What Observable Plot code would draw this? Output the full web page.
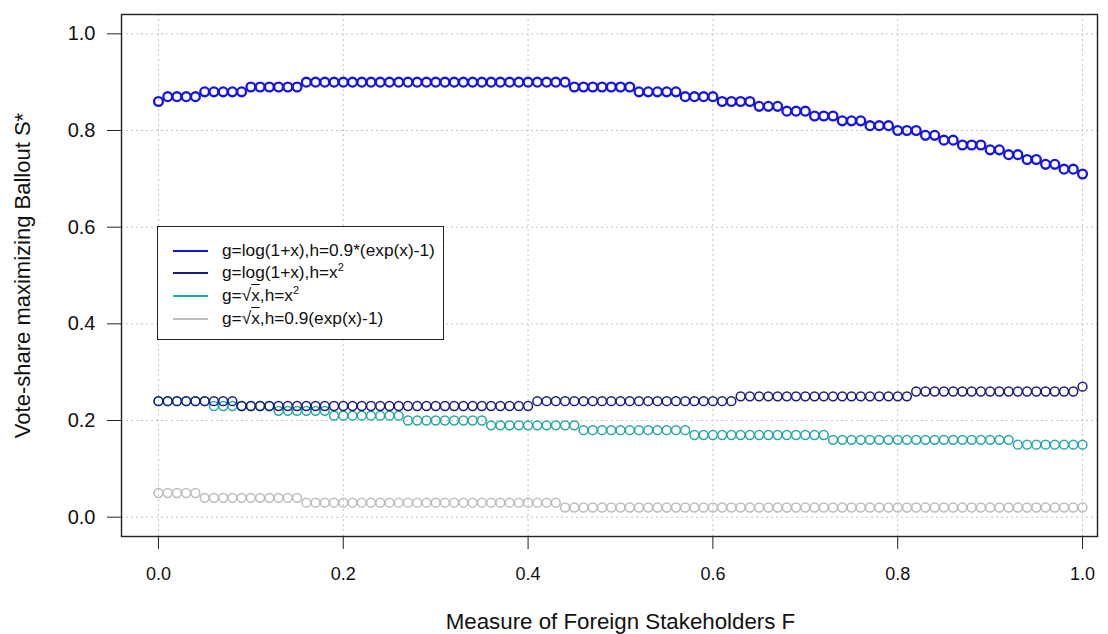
<!DOCTYPE html>
<html>
<head>
<meta charset="utf-8">
<script src="https://cdn.jsdelivr.net/npm/d3@7"></script>
<script src="https://cdn.jsdelivr.net/npm/@observablehq/plot@0.6"></script>
<style>
  html, body { margin: 0; padding: 0; background: #fff; }
  #wrap { position: relative; width: 1108px; height: 634px; font-family: "Liberation Sans", Arial, sans-serif; }
  #legend { position: absolute; left: 157px; top: 226px; width: 285px; height: 112px; border: 1.5px solid #222; background: #fff; }
  .row { position: absolute; left: 0; height: 20px; width: 285px; }
  .row .ln { position: absolute; left: 15px; width: 35px; top: 9px; height: 0; border-top: 2.5px solid; }
  .row .tx { position: absolute; left: 64px; top: -1px; font-size: 17.3px; line-height: 20px; color: #111; white-space: nowrap; }
  .row sup { font-size: 11px; vertical-align: 7px; line-height: 0; }
  .ov { text-decoration: overline; }
</style>
</head>
<body>
<div id="wrap">
  <div id="chart"></div>
  <div id="legend"></div>
</div>
<script>
// ---------- data ----------
const xValues = [0.00,0.01,0.02,0.03,0.04,0.05,0.06,0.07,0.08,0.09,
  0.10,0.11,0.12,0.13,0.14,0.15,0.16,0.17,0.18,0.19,
  0.20,0.21,0.22,0.23,0.24,0.25,0.26,0.27,0.28,0.29,
  0.30,0.31,0.32,0.33,0.34,0.35,0.36,0.37,0.38,0.39,
  0.40,0.41,0.42,0.43,0.44,0.45,0.46,0.47,0.48,0.49,
  0.50,0.51,0.52,0.53,0.54,0.55,0.56,0.57,0.58,0.59,
  0.60,0.61,0.62,0.63,0.64,0.65,0.66,0.67,0.68,0.69,
  0.70,0.71,0.72,0.73,0.74,0.75,0.76,0.77,0.78,0.79,
  0.80,0.81,0.82,0.83,0.84,0.85,0.86,0.87,0.88,0.89,
  0.90,0.91,0.92,0.93,0.94,0.95,0.96,0.97,0.98,0.99,1.00];

// g=log(1+x), h=0.9*(exp(x)-1)
const seriesLogExp = [0.86,0.87,0.87,0.87,0.87,0.88,0.88,0.88,0.88,0.88,
  0.89,0.89,0.89,0.89,0.89,0.89,0.90,0.90,0.90,0.90,
  0.90,0.90,0.90,0.90,0.90,0.90,0.90,0.90,0.90,0.90,
  0.90,0.90,0.90,0.90,0.90,0.90,0.90,0.90,0.90,0.90,
  0.90,0.90,0.90,0.90,0.90,0.89,0.89,0.89,0.89,0.89,
  0.89,0.89,0.88,0.88,0.88,0.88,0.88,0.87,0.87,0.87,
  0.87,0.86,0.86,0.86,0.86,0.85,0.85,0.85,0.84,0.84,
  0.84,0.83,0.83,0.83,0.82,0.82,0.82,0.81,0.81,0.81,
  0.80,0.80,0.80,0.79,0.79,0.78,0.78,0.77,0.77,0.77,
  0.76,0.76,0.75,0.75,0.74,0.74,0.73,0.73,0.72,0.72,0.71];

// g=log(1+x), h=x^2
const seriesLogSq = [0.24,0.24,0.24,0.24,0.24,0.24,0.24,0.24,0.24,0.23,
  0.23,0.23,0.23,0.23,0.23,0.23,0.23,0.23,0.23,0.23,
  0.23,0.23,0.23,0.23,0.23,0.23,0.23,0.23,0.23,0.23,
  0.23,0.23,0.23,0.23,0.23,0.23,0.23,0.23,0.23,0.23,
  0.23,0.24,0.24,0.24,0.24,0.24,0.24,0.24,0.24,0.24,
  0.24,0.24,0.24,0.24,0.24,0.24,0.24,0.24,0.24,0.24,
  0.24,0.24,0.24,0.25,0.25,0.25,0.25,0.25,0.25,0.25,
  0.25,0.25,0.25,0.25,0.25,0.25,0.25,0.25,0.25,0.25,
  0.25,0.25,0.26,0.26,0.26,0.26,0.26,0.26,0.26,0.26,
  0.26,0.26,0.26,0.26,0.26,0.26,0.26,0.26,0.26,0.26,0.27];

// g=sqrt(x), h=x^2
const seriesSqrtSq = [0.24,0.24,0.24,0.24,0.24,0.24,0.23,0.23,0.23,0.23,
  0.23,0.23,0.23,0.22,0.22,0.22,0.22,0.22,0.22,0.21,
  0.21,0.21,0.21,0.21,0.21,0.21,0.21,0.20,0.20,0.20,
  0.20,0.20,0.20,0.20,0.20,0.20,0.19,0.19,0.19,0.19,
  0.19,0.19,0.19,0.19,0.19,0.19,0.18,0.18,0.18,0.18,
  0.18,0.18,0.18,0.18,0.18,0.18,0.18,0.18,0.17,0.17,
  0.17,0.17,0.17,0.17,0.17,0.17,0.17,0.17,0.17,0.17,
  0.17,0.17,0.17,0.16,0.16,0.16,0.16,0.16,0.16,0.16,
  0.16,0.16,0.16,0.16,0.16,0.16,0.16,0.16,0.16,0.16,
  0.16,0.16,0.16,0.15,0.15,0.15,0.15,0.15,0.15,0.15,0.15];

// g=sqrt(x), h=0.9(exp(x)-1)
const seriesSqrtExp = [0.05,0.05,0.05,0.05,0.05,0.04,0.04,0.04,0.04,0.04,
  0.04,0.04,0.04,0.04,0.04,0.04,0.03,0.03,0.03,0.03,
  0.03,0.03,0.03,0.03,0.03,0.03,0.03,0.03,0.03,0.03,
  0.03,0.03,0.03,0.03,0.03,0.03,0.03,0.03,0.03,0.03,
  0.03,0.03,0.03,0.03,0.02,0.02,0.02,0.02,0.02,0.02,
  0.02,0.02,0.02,0.02,0.02,0.02,0.02,0.02,0.02,0.02,
  0.02,0.02,0.02,0.02,0.02,0.02,0.02,0.02,0.02,0.02,
  0.02,0.02,0.02,0.02,0.02,0.02,0.02,0.02,0.02,0.02,
  0.02,0.02,0.02,0.02,0.02,0.02,0.02,0.02,0.02,0.02,
  0.02,0.02,0.02,0.02,0.02,0.02,0.02,0.02,0.02,0.02,0.02];

const xTicks = [0, 0.2, 0.4, 0.6, 0.8, 1.0];
const yTicks = [0, 0.2, 0.4, 0.6, 0.8, 1.0];

const seriesNames = [
  "g=log(1+x),h=0.9*(exp(x)-1)",
  "g=log(1+x),h=x^2",
  "g=sqrt(x),h=x^2",
  "g=sqrt(x),h=0.9(exp(x)-1)"
];
const seriesLegendHtml = [
  'g=log(1+x),h=0.9*(exp(x)-1)',
  'g=log(1+x),h=x<sup>2</sup>',
  'g=&radic;<span class="ov">x</span>,h=x<sup>2</sup>',
  'g=&radic;<span class="ov">x</span>,h=0.9(exp(x)-1)'
];
const seriesColors = ["#1414e6", "#1c1c7c", "#26a8a3", "#bcbcbc"];
const seriesWidths = [2.3, 1.5, 1.5, 1.5];
const seriesValues = [seriesLogExp, seriesLogSq, seriesSqrtSq, seriesSqrtExp];

const xLabel = "Measure of Foreign Stakeholders F";
const yLabel = "Vote-share maximizing Ballout S*";

// ---------- build ----------
function table(i) {
  return xValues.map((x, j) => ({x, y: seriesValues[i][j], s: seriesNames[i]}));
}
// draw order keeps navy over teal
const drawOrder = [3, 2, 1, 0];

const dotMarks = drawOrder.map(i => Plot.dot(table(i), {
  x: "x", y: "y", r: 4.4, stroke: seriesColors[i], strokeWidth: seriesWidths[i], fill: "none"
}));

const chart = Plot.plot({
  width: 1108,
  height: 634,
  marginLeft: 121,
  marginRight: 11,
  marginTop: 14,
  marginBottom: 98,
  style: {background: "#fff"},
  x: {domain: [-0.04, 1.0162]},
  y: {domain: [-0.04, 1.04]},
  marks: [
    Plot.gridX(xTicks, {stroke: "#c4c4c4", strokeOpacity: 1, strokeDasharray: "2,3", strokeWidth: 1}),
    Plot.gridY(yTicks, {stroke: "#c4c4c4", strokeOpacity: 1, strokeDasharray: "2,3", strokeWidth: 1}),
    ...dotMarks,
    Plot.frame({stroke: "#222", strokeWidth: 1.4}),
    Plot.axisY(yTicks, {
      anchor: "left", tickSize: 14, tickPadding: 12, tickFormat: d3.format(".1f"),
      fontSize: 20, fontFamily: "Liberation Sans, Arial, sans-serif", fill: "#111", stroke: "#222", label: null
    }),
    Plot.axisX(xTicks, {
      anchor: "bottom", tickSize: 13, tickPadding: 18, tickFormat: d3.format(".1f"),
      fontSize: 18, fontFamily: "Liberation Sans, Arial, sans-serif", fill: "#111", stroke: "#222", label: null
    }),
    Plot.text([xLabel], {
      frameAnchor: "bottom", dx: 11, dy: 92, text: d => d, fontSize: 22.3, fill: "#111",
      fontFamily: "Liberation Sans, Arial, sans-serif"
    }),
    Plot.text([yLabel], {
      frameAnchor: "left", dx: -99, rotate: -90, textAnchor: "middle", text: d => d, fontSize: 22, fill: "#111",
      fontFamily: "Liberation Sans, Arial, sans-serif"
    })
  ]
});
document.getElementById("chart").appendChild(chart);

// legend inside the plot (HTML overlay)
const legend = document.getElementById("legend");
const rowTops = [14, 36, 59, 82];
seriesLegendHtml.forEach((h, i) => {
  const row = document.createElement("div");
  row.className = "row";
  row.style.top = rowTops[i] + "px";
  row.innerHTML = `<div class="ln" style="border-top-color:${seriesColors[i]}"></div><div class="tx">${h}</div>`;
  legend.appendChild(row);
});
</script>
</body>
</html>
